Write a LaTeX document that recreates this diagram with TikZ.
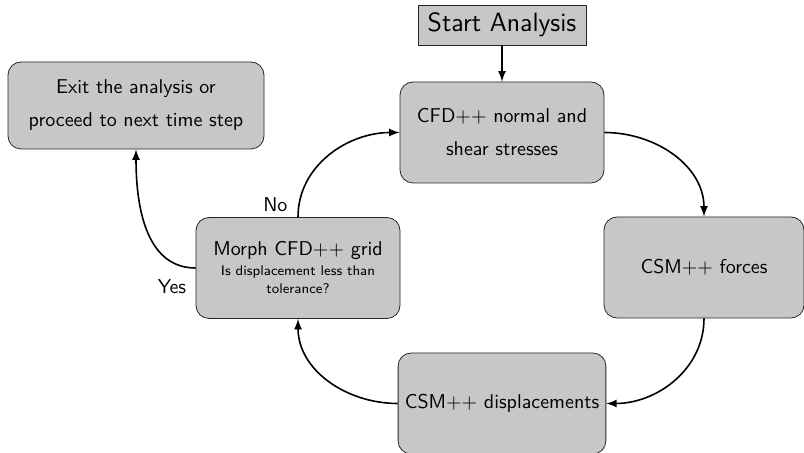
\documentclass[tikz,border=0pt]{standalone}
\usepackage{tikz}
\usetikzlibrary{positioning}

\tikzset{
  stepbox/.style={draw=black!85, fill=black!22, rounded corners=6.5pt,
    minimum width=102pt, minimum height=50.5pt, align=center, font=\sffamily},
  startbox/.style={draw=black!85, fill=black!22, minimum width=84pt,
    minimum height=20pt, font=\sffamily\fontsize{13.2}{16}\selectfont},
  flow/.style={-latex, thick}
}

\begin{document}
\begin{tikzpicture}[x=0.5pt, y=-0.5pt, every text node part/.style={align=center}]
  \useasboundingbox (0,0) rectangle (804,453);
  \node (start) [startbox] at (502,25) {Start Analysis};
  \node (cfd) [stepbox] at (502,132.5) {CFD++ normal and \\[4.5pt] shear stresses};
  \node (forces) [stepbox, minimum width=100pt] at (704,267.5) {CSM++ forces};
  \node (disp) [stepbox] at (502,403.5) {CSM++ displacements};
  \node (morph) [stepbox] at (298,268) {Morph CFD++ grid \\[-2pt]
    {\scriptsize Is displacement less than} \\[-3pt] {\scriptsize tolerance?}};
  \node (exit) [stepbox, minimum width=128pt, minimum height=43.5pt] at (136,105.5)
    {Exit the analysis or \\[4.5pt] proceed to next time step};
\draw[flow] (start) -- (cfd);
\draw[flow] (cfd.east) to[out=0, in=90] (forces.north);
\draw[flow] (forces.south) to[out=-90, in=0] (disp.east);
\draw[flow] (disp.west) to[out=180, in=-90] (morph.south);
\draw[flow] (morph.north) to[out=90, in=180] node[pos=0.08, left=2pt, font=\sffamily] {No} (cfd.west);
\draw[flow] (morph.west) to[out=180, in=-90] node[pos=0.0, below left=2pt and 1pt, font=\sffamily] {Yes} (exit.south);
\end{tikzpicture}
\end{document}
